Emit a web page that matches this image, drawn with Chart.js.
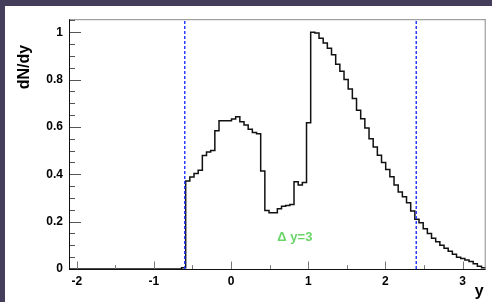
<!DOCTYPE html>
<html>
<head>
<meta charset="utf-8">
<script src="https://cdn.jsdelivr.net/npm/chart.js@4.4.1/dist/chart.umd.min.js"></script>
<style>
  html, body { margin: 0; padding: 0; width: 492px; height: 302px; overflow: hidden; background: #443e5a; }
  #box { position: absolute; left: 5px; top: 6px; width: 487px; height: 296px; background: #fff; }
</style>
</head>
<body>
<div id="box"><canvas id="chart" width="487" height="296"></canvas></div>
<script>
// histogram: 100 bins from -2.1 to 3.3
const binLow = -2.1;
const binWidth = 0.054;
const dNdy = [
  0, 0, 0, 0, 0, 0, 0, 0, 0, 0,
  0, 0, 0, 0, 0, 0, 0, 0, 0, 0,
  0, 0, 0, 0, 0, 0, 0, 0.005, 0.372, 0.389,
  0.403, 0.417, 0.479, 0.494, 0.500, 0.584, 0.626, 0.626, 0.626, 0.633,
  0.643, 0.622, 0.608, 0.590, 0.576, 0.571, 0.414, 0.247, 0.238, 0.238,
  0.254, 0.265, 0.268, 0.272, 0.368, 0.355, 0.365, 0.618, 1.000, 0.997,
  0.975, 0.955, 0.932, 0.905, 0.865, 0.835, 0.800, 0.760, 0.720, 0.670,
  0.635, 0.595, 0.550, 0.515, 0.480, 0.450, 0.420, 0.390, 0.355, 0.325,
  0.305, 0.280, 0.245, 0.210, 0.195, 0.170, 0.150, 0.130, 0.115, 0.100,
  0.088, 0.075, 0.062, 0.050, 0.044, 0.038, 0.032, 0.022, 0.012, 0.005
];
const cutLines = [-0.6, 2.4];
const bandLabel = '\u0394 y=3';
const xTicks = [-2, -1, 0, 1, 2, 3];
const yTicks = [0, 0.2, 0.4, 0.6, 0.8, 1];
const xRange = [-2.1, 3.3];
const yRange = [0, 1.055];

// one point per left bin edge, plus the closing edge
const histPoints = [{ x: binLow, y: 0 }];
dNdy.forEach((v, k) => histPoints.push({ x: binLow + (k + 1) * binWidth, y: v }));
histPoints.push({ x: binLow + dNdy.length * binWidth, y: 0 });

// frame, inner ticks and extra texts (ROOT look)
const frame = {
  id: 'frame',
  afterDatasetsDraw(chart) {
    const { ctx, chartArea: a, scales: { x, y } } = chart;
    ctx.save();
    ctx.lineWidth = 1;
    ctx.strokeStyle = '#8a8a8a';
    ctx.beginPath();
    ctx.moveTo(a.left, a.top + 0.5); ctx.lineTo(a.right, a.top + 0.5);
    ctx.moveTo(a.right - 0.5, a.top); ctx.lineTo(a.right - 0.5, a.bottom);
    ctx.stroke();

    ctx.strokeStyle = '#555';
    ctx.beginPath();
    for (let i = 0; i <= 21; i++) {
      const py = Math.round(y.getPixelForValue(i * 0.05)) + 0.5;
      const len = i % 4 === 0 ? 12 : 6;
      ctx.moveTo(a.left, py); ctx.lineTo(a.left + len, py);
    }
    ctx.stroke();

    ctx.strokeStyle = '#777';
    ctx.beginPath();
    for (let v = -2; v <= 3; v += 0.5) {
      const px = Math.round(x.getPixelForValue(v)) + 0.5;
      const len = Number.isInteger(v) ? 7.5 : 3.8;
      ctx.moveTo(px, a.bottom); ctx.lineTo(px, a.bottom - len);
    }
    ctx.stroke();

    ctx.strokeStyle = '#111';
    ctx.beginPath();
    ctx.moveTo(a.left + 0.5, a.top); ctx.lineTo(a.left + 0.5, a.bottom);
    ctx.moveTo(a.left, a.bottom + 0.5); ctx.lineTo(a.right, a.bottom + 0.5);
    ctx.stroke();

    // label between the cuts
    ctx.fillStyle = '#6ad66a';
    ctx.font = 'bold 13px "Liberation Sans", Arial, sans-serif';
    ctx.textAlign = 'left';
    ctx.textBaseline = 'alphabetic';
    ctx.fillText(bandLabel, x.getPixelForValue(0.6), y.getPixelForValue(0.12));

    // axis titles
    ctx.fillStyle = '#000';
    ctx.font = 'bold 16px "Liberation Sans", Arial, sans-serif';
    ctx.textAlign = 'right';
    ctx.fillText('y', a.right - 2, 290);

    ctx.save();
    ctx.translate(24, 61);
    ctx.rotate(-Math.PI / 2);
    ctx.font = 'bold 16px "Liberation Sans", Arial, sans-serif';
    ctx.textAlign = 'center';
    ctx.fillText('dN/dy', 0, 0);
    ctx.restore();
    ctx.restore();
  }
};

const cutSets = cutLines.map(c => ({
  data: [{ x: c, y: yRange[0] }, { x: c, y: yRange[1] }],
  borderColor: '#2a3cff',
  borderWidth: 1.5,
  borderDash: [3, 2],
  pointRadius: 0,
  order: 0
}));

const tickFont = { family: '"Liberation Sans", Arial', size: 12, weight: 'bold' };

new Chart(document.getElementById('chart'), {
  type: 'line',
  data: {
    datasets: [{
      data: histPoints,
      stepped: 'after',
      borderColor: '#111',
      borderWidth: 1.5,
      pointRadius: 0,
      fill: false,
      clip: false,
      order: 1
    }, ...cutSets]
  },
  options: {
    responsive: false,
    animation: false,
    devicePixelRatio: 1,
    layout: { padding: { left: 0, top: 9.7, right: 6.3, bottom: 0 } },
    plugins: { legend: { display: false }, tooltip: { enabled: false } },
    scales: {
      x: {
        type: 'linear',
        min: xRange[0], max: xRange[1],
        grid: { display: false, drawTicks: false },
        border: { display: false },
        afterBuildTicks: s => { s.ticks = xTicks.map(v => ({ value: v })); },
        afterFit: s => { s.height = 33; },
        ticks: { color: '#000', font: tickFont, padding: 5, maxRotation: 0, callback: v => String(v) }
      },
      y: {
        type: 'linear',
        min: yRange[0], max: yRange[1],
        grid: { display: false, drawTicks: false },
        border: { display: false },
        afterBuildTicks: s => { s.ticks = yTicks.map(v => ({ value: v })); },
        afterFit: s => { s.width = 64; },
        ticks: { color: '#000', font: tickFont, padding: 6, callback: v => String(v) }
      }
    }
  },
  plugins: [frame]
});
</script>
</body>
</html>
